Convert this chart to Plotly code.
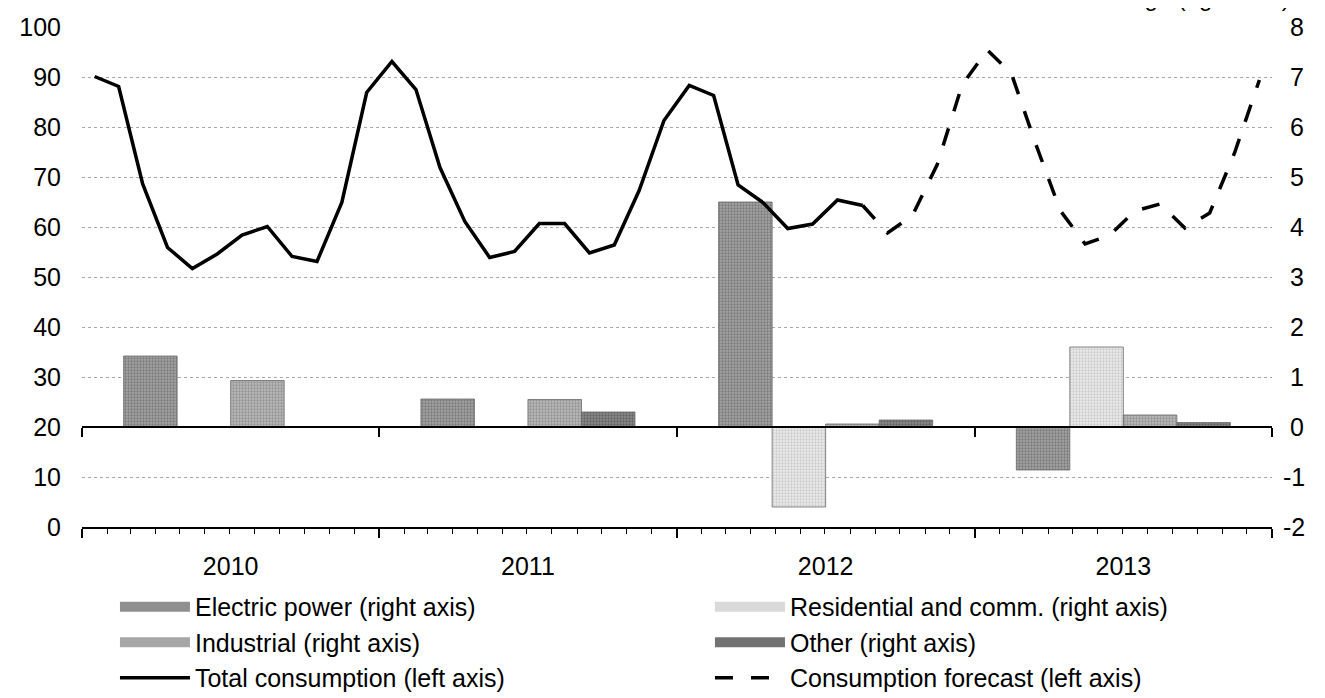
import plotly.graph_objects as go
import pandas as pd

# ---------------- data ----------------
years = ["2010", "2011", "2012", "2013"]
electric_power = [1.42, 0.56, 4.50, -0.86]
residential_comm = [0.0, 0.0, -1.60, 1.60]
industrial = [0.93, 0.55, 0.06, 0.24]
other = [0.0, 0.30, 0.14, 0.09]

total_start, total_end = "2010-01-01", "2012-08-01"
total_consumption = [90.1, 88.1, 68.6, 55.9, 51.7, 54.6, 58.4, 60.1, 54.1, 53.1, 64.9, 86.9,
                     93.1, 87.5, 71.9, 61.1, 53.9, 55.1, 60.7, 60.7, 54.8, 56.4, 67.3, 81.3,
                     88.3, 86.3, 68.4, 64.9, 59.7, 60.6, 65.4, 64.3]
forecast_start, forecast_end = "2012-08-01", "2013-12-01"
consumption_forecast = [64.3, 58.8, 62.3, 72.5, 88.4, 95.4, 90.7, 76.8, 63.3, 56.6, 58.4,
                        63.2, 64.6, 59.8, 62.8, 74.8, 89.4]

left_ticks = list(range(0, 101, 10))
right_ticks = list(range(-2, 9))
right_tick_text = [str(v) if v < 0 else "\u2008" + str(v) for v in right_ticks]
year_bounds = ["2010-01-01", "2011-01-01", "2012-01-01", "2013-01-01", "2014-01-01"]

left_title = "Natural gas consumption (Bcf/d)"
right_title = "Annual change (right axis)"

# ---------------- figure ----------------
FONT = "Liberation Sans, Arial, sans-serif"
TICK_SIZE = 25
LEG_SIZE = 25
year_dates = pd.to_datetime(years, format="%Y")
total_months = pd.date_range(total_start, total_end, freq="MS")
forecast_months = pd.date_range(forecast_start, forecast_end, freq="MS")

fig = go.Figure()

# name, values, pattern bg, pattern fg, legend key colour, legend row
bar_styles = [
    ("Electric power (right axis)", electric_power, "#a4a4a4", "#505050", "#8f8f8f", "legend"),
    ("Residential and comm. (right axis)", residential_comm, "#ececec", "#a9a9a9", "#d9d9d9", "legend"),
    ("Industrial (right axis)", industrial, "#bababa", "#6c6c6c", "#a6a6a6", "legend2"),
    ("Other (right axis)", other, "#8a8a8a", "#3c3c3c", "#727272", "legend2"),
]
for name, vals, bg, fg, key, leg in bar_styles:
    fig.add_trace(go.Bar(
        x=year_dates, y=vals, name=name, showlegend=False,
        xperiod="M12", xperiodalignment="middle",
        xaxis="x", yaxis="y",
        marker=dict(color=bg,
                    pattern=dict(shape=".", bgcolor=bg, fgcolor=fg, size=3, solidity=0.45),
                    line=dict(color="#6a6a6a", width=0.8)),
    ))
for name, vals, bg, fg, key, leg in bar_styles:
    # legend key drawn as a wide bar-like swatch
    fig.add_trace(go.Scatter(
        x=[None], y=[None], name=name, mode="lines", legend=leg,
        line=dict(color=key, width=14), xaxis="x", yaxis="y", hoverinfo="skip",
    ))

fig.add_trace(go.Scatter(
    x=total_months, y=total_consumption, name="Total consumption (left axis)",
    xperiod="M1", xperiodalignment="middle", mode="lines", legend="legend3",
    line=dict(color="black", width=3.5), xaxis="x2", yaxis="y2",
))
fig.add_trace(go.Scatter(
    x=forecast_months, y=consumption_forecast, name="Consumption forecast (left axis)",
    xperiod="M1", xperiodalignment="middle", mode="lines", legend="legend3",
    line=dict(color="black", width=3.5, dash="18px,18px"), xaxis="x2", yaxis="y2",
))

xrange = [year_bounds[0], year_bounds[-1]]
leg_common = dict(orientation="h", x=0.0277, xref="paper", yref="container",
                  xanchor="left", yanchor="top",
                  entrywidth=0.5, entrywidthmode="fraction", itemwidth=70,
                  font=dict(size=LEG_SIZE, color="black", family=FONT),
                  bgcolor="rgba(0,0,0,0)", traceorder="normal", borderwidth=0)

fig.update_layout(
    width=1325, height=698,
    margin=dict(l=74, r=61, t=19, b=179),
    paper_bgcolor="white", plot_bgcolor="white",
    font=dict(family=FONT, size=TICK_SIZE, color="black"),
    barmode="group", bargap=0.28, bargroupgap=0,
    showlegend=True,
    legend=dict(leg_common, y=0.1748),
    legend2=dict(leg_common, y=0.1239),
    legend3=dict(leg_common, y=0.0731),
    xaxis=dict(type="date", range=xrange, anchor="free", position=0.2,
               showline=True, linecolor="black", linewidth=2,
               tickmode="array", tickvals=year_bounds, ticks="outside", ticklen=9,
               tickwidth=1.5, tickcolor="black", showticklabels=False,
               showgrid=False, zeroline=False, automargin=False),
    yaxis=dict(side="right", anchor="x", range=[-2, 8], tickmode="array",
               tickvals=right_ticks, ticktext=right_tick_text,
               showgrid=False, zeroline=False, showline=False, ticks="",
               ticklabelstandoff=10, tickfont=dict(size=TICK_SIZE), automargin=False),
    xaxis2=dict(type="date", range=xrange, overlaying="x", anchor="y2", side="bottom",
                showline=True, linecolor="black", linewidth=2,
                dtick="M12", tick0=year_bounds[0], ticklabelmode="period", tickformat="%Y",
                ticks="outside", ticklen=9, tickwidth=1.5, tickcolor="black",
                minor=dict(dtick="M1", ticks="outside", ticklen=5, tickwidth=1,
                           tickcolor="black", showgrid=False),
                showgrid=False, zeroline=False, ticklabelstandoff=7,
                tickfont=dict(size=TICK_SIZE), automargin=False),
    yaxis2=dict(overlaying="y", side="left", anchor="x2", range=[0, 100],
                tickmode="array", tickvals=left_ticks,
                showgrid=True, gridcolor="#a8a8a8", griddash="dot", gridwidth=1,
                zeroline=False, showline=False, ticks="", ticklabelstandoff=20,
                tickfont=dict(size=TICK_SIZE), automargin=False),
)

fig.add_annotation(text=left_title, xref="paper", yref="paper", x=0.050, y=1.034,
                   xanchor="left", yanchor="bottom", showarrow=False,
                   font=dict(size=24, color="black"))
fig.add_annotation(text=right_title, xref="paper", yref="paper", x=1.0168, y=1.028,
                   xanchor="right", yanchor="bottom", showarrow=False,
                   font=dict(size=24, color="black"))

fig.write_html("out.html")
